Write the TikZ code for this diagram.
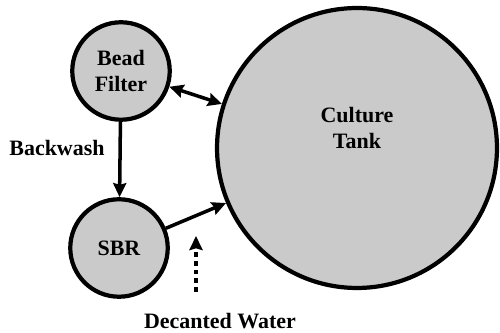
\documentclass[tikz,border=0pt]{standalone}
\usepackage{fontspec}
\setmainfont{Liberation Serif}
\usepackage{tikz}
\usetikzlibrary{positioning,arrows.meta}
\usepackage{xcolor}
\definecolor{vesselgray}{RGB}{202,202,202}

\tikzset{
  vessel/.style={circle,draw=black,line width=2.4pt,fill=vesselgray,inner sep=0pt,align=center,font=\fontsize{12.5}{14.5}\selectfont\bfseries},
  flow/.style={->,line width=2pt},
  lbl/.style={font=\fontsize{12.5}{14.5}\selectfont\bfseries}
}

\begin{document}
\begin{tikzpicture}[x=0.02cm,y=-0.02cm,>={Stealth[length=8pt,width=7.5pt,inset=1pt]}]
\useasboundingbox (0,0) rectangle (500,333);
\node[vessel,minimum size=5.6cm,label={[align=center,yshift=0.4cm,lbl]center:Culture\\Tank}] (tank) at (357,148) {};
\node[vessel,minimum size=1.95cm] (bead) at (121,71) {Bead\\Filter};
\node[vessel,minimum size=1.95cm] (sbr) at (119,248) {SBR};
\node[lbl] (backwash) at (57,148) {Backwash};
\node[lbl] (decant) at (220,321) {Decanted Water};
\coordinate (dec1) at (196,292);
\coordinate (dec2) at (196,236);
\draw[flow] (bead) -- (sbr);
\draw[flow,<->] (bead) -- (tank);
\draw[flow] (sbr) -- (tank);
\draw[flow,line width=2.4pt,dash pattern=on 2.8pt off 2.2pt] (dec1) -- (dec2);
\end{tikzpicture}
\end{document}
